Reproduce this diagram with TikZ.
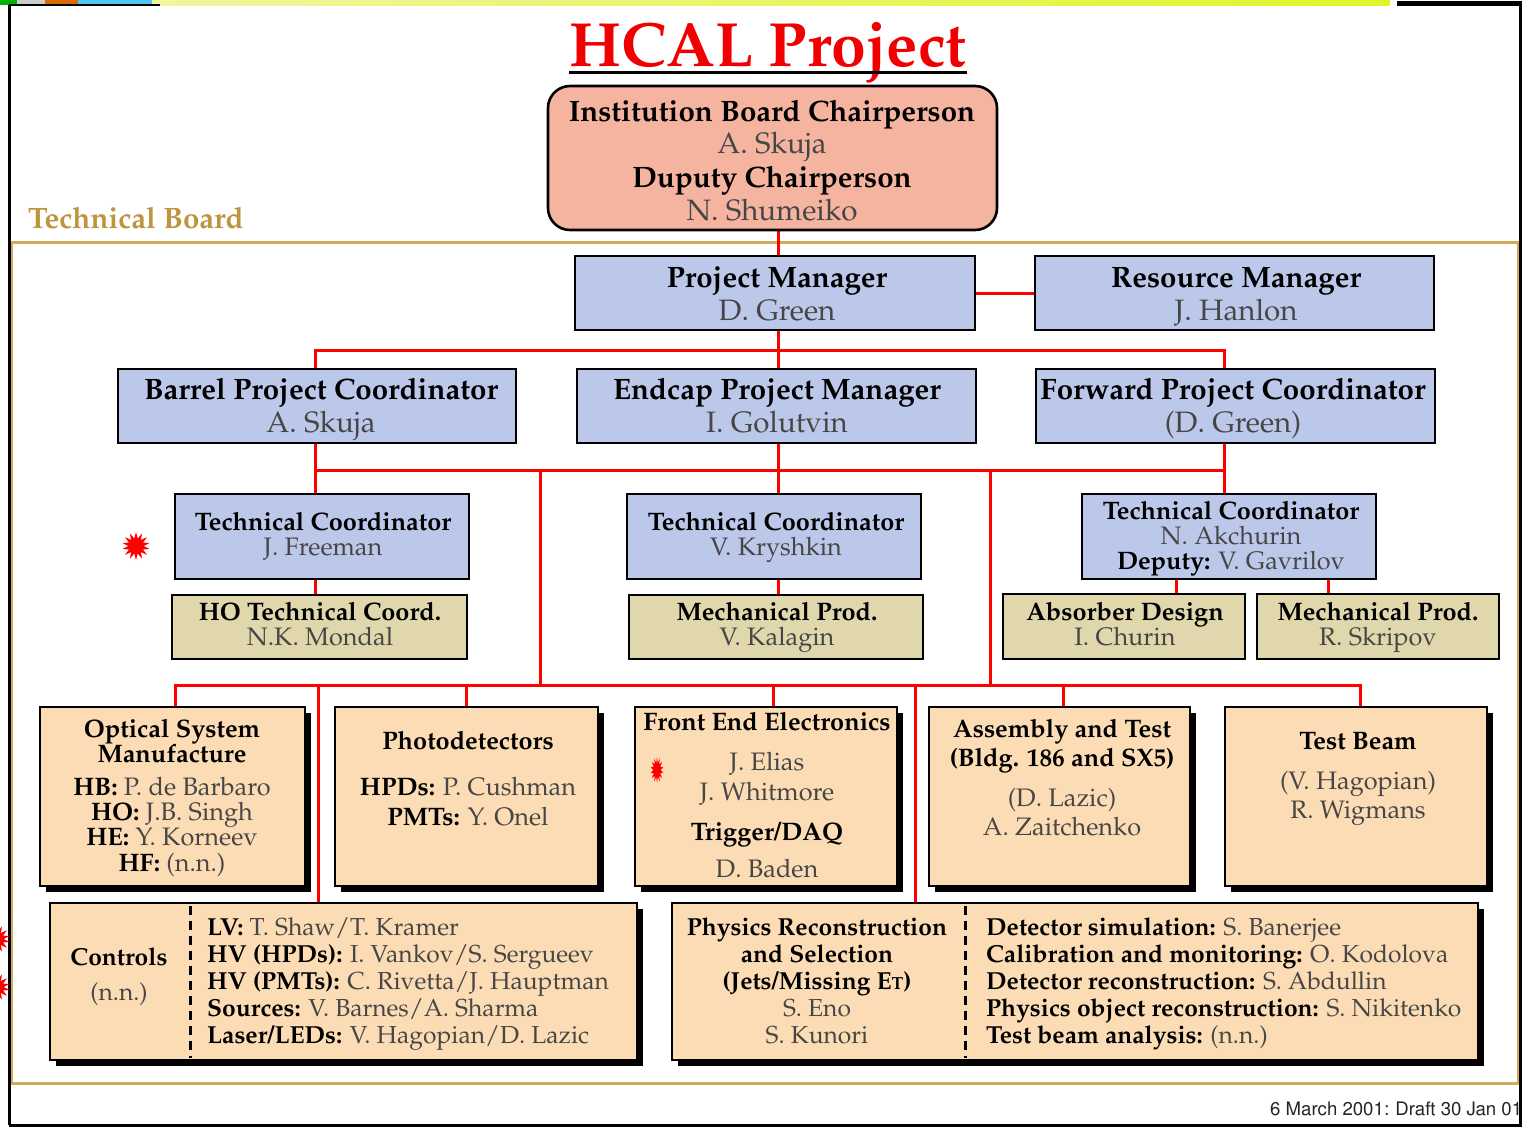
\documentclass[tikz,border=0pt]{standalone}
\usepackage[T1]{fontenc}
\usepackage{mathpazo}
\usetikzlibrary{shapes.geometric,shadows}

\definecolor{linkred}{RGB}{255,0,0}
\definecolor{titlered}{RGB}{240,0,0}
\definecolor{boardgold}{RGB}{212,170,90}
\definecolor{boardtext}{RGB}{190,148,62}
\definecolor{bluefill}{RGB}{188,200,234}
\definecolor{tanfill}{RGB}{224,215,172}
\definecolor{peachfill}{RGB}{252,220,180}
\definecolor{salmonfill}{RGB}{244,180,160}
\definecolor{nametext}{RGB}{70,70,70}

\pgfdeclarelayer{bg}
\pgfsetlayers{bg,main}

\tikzset{
  box/.style={draw=black, line width=2.6pt, inner sep=0pt, rectangle},
  bluebox/.style={box, fill=bluefill},
  tanbox/.style={box, fill=tanfill},
  peachbox/.style={box, fill=peachfill,
    drop shadow={shadow xshift=6pt, shadow yshift=-6pt, fill=black, opacity=1}},
  link/.style={draw=linkred, line width=3pt, line cap=rect},
  divider/.style={draw=black, line width=3pt, dash pattern=on 9pt off 6pt},
  big/.style={font=\fontsize{29.5}{33}\selectfont, inner sep=0pt, text=nametext},
  small/.style={font=\fontsize{25.3}{27}\selectfont, inner sep=0pt, text=nametext},
  smaller/.style={font=\fontsize{24.6}{27}\selectfont, inner sep=0pt, text=nametext},
  burst/.style={star, star points=14, star point ratio=1.8, fill=red, draw=none,
    inner sep=0pt, minimum size=28pt},
}

% bold heading text inside a name line
\newcommand\hd[1]{{\bfseries\color{black}#1}}
% box from its corner coordinates: style, name, x1, y1, x2, y2
\newcommand\mkbox[6]{\node[#1, minimum width=#5-#3, minimum height=#6-#4] (#2) at ({(#3+#5)/2},{(#4+#6)/2}) {};}
% one text line on its baseline: style, name, x, y, text
\newcommand\mkline[5]{\node[#1, anchor=base] (#2) at (#3,#4) {#5};}
\newcommand\mklinel[5]{\node[#1, anchor=base west] (#2) at (#3,#4) {#5};}

\begin{document}
\begin{tikzpicture}[x=1pt, y=-1pt]
\useasboundingbox (0,0) rectangle (1522,1128);

% window strip and frame
\fill[green!70!black] (0,0) rectangle (17,5);
\fill[black!20] (17,0) rectangle (45,5);
\fill[orange!85!black] (45,0) rectangle (78,5);
\fill[cyan!70] (78,0) rectangle (152,5);
\shade[left color={rgb,255:red,238;green,246;blue,160}, right color={rgb,255:red,226;green,244;blue,40}] (152,0) rectangle (1390,5);
\draw[line width=3pt] (9,5) -- (9,1125);
\draw[line width=2pt] (9,5) -- (160,5);
\draw[line width=5pt] (1397,3) -- (1522,3);
\draw[line width=3pt] (1520,3) -- (1520,1125);
\draw[line width=3pt] (9,1125) -- (1522,1125);

% title
\node[anchor=base, font=\fontsize{62.5}{70}\selectfont\bfseries, text=titlered, inner sep=0pt] (title) at (768,66) {HCAL Project};
\draw[line width=3pt] ([yshift=-6pt]title.base west) -- ([yshift=-6pt]title.base east);

% institution board
\node[box, fill=salmonfill, rounded corners=22pt, minimum width=449, minimum height=144] (ibc) at (772.5,158) {};
\mkline{big}{ib1}{772}{121}{\hd{Institution Board Chairperson}}
\mkline{big}{ib2}{772}{153}{A. Skuja}
\mkline{big}{ib3}{772}{187}{\hd{Duputy Chairperson}}
\mkline{big}{ib4}{772}{220}{N. Shumeiko}

\node[anchor=base west, font=\fontsize{29.5}{33}\selectfont\bfseries, text=boardtext, inner sep=0pt] (tblabel) at (28,228) {Technical Board};

% managers
\mkbox{bluebox}{pm}{575}{256}{975}{330}
\mkbox{bluebox}{rm}{1035}{256}{1434}{330}
\mkline{big}{pm1}{777}{287}{\hd{Project Manager}}
\mkline{big}{pm2}{777}{320}{D. Green}
\mkline{big}{rm1}{1236}{287}{\hd{Resource Manager}}
\mkline{big}{rm2}{1236}{320}{J. Hanlon}

\mkbox{bluebox}{barrel}{118}{369}{516}{443}
\mkbox{bluebox}{endcap}{577}{369}{976}{443}
\mkbox{bluebox}{forward}{1036}{369}{1435}{443}
\mkline{big}{ba1}{321}{399}{\hd{Barrel Project Coordinator}}
\mkline{big}{ba2}{321}{432}{A. Skuja}
\mkline{big}{ec1}{777}{399}{\hd{Endcap Project Manager}}
\mkline{big}{ec2}{777}{432}{I. Golutvin}
\mkline{big}{fw1}{1233}{399}{\hd{Forward Project Coordinator}}
\mkline{big}{fw2}{1233}{432}{(D. Green)}

% technical coordinators
\mkbox{bluebox}{freeman}{175}{494}{469}{579}
\mkbox{bluebox}{kryshkin}{627}{494}{921}{579}
\mkbox{bluebox}{akchurin}{1082}{494}{1376}{579}
\mkline{small}{fr1}{323}{530}{\hd{Technical Coordinator}}
\mkline{small}{fr2}{323}{555}{J. Freeman}
\mkline{small}{kr1}{776}{530}{\hd{Technical Coordinator}}
\mkline{small}{kr2}{776}{555}{V. Kryshkin}
\mkline{small}{ak1t}{1231}{519}{\hd{Technical Coordinator}}
\mkline{small}{ak2t}{1231}{544}{N. Akchurin}
\mkline{small}{ak3t}{1231}{569}{\hd{Deputy:} V. Gavrilov}

\mkbox{tanbox}{ho}{172}{595}{467}{659}
\mkbox{tanbox}{kalagin}{629}{595}{923}{659}
\mkbox{tanbox}{absorber}{1003}{594}{1245}{659}
\mkbox{tanbox}{skripov}{1257}{594}{1499}{659}
\mkline{small}{ho1}{320}{620}{\hd{HO Technical Coord.}}
\mkline{small}{ho2}{320}{645}{N.K. Mondal}
\mkline{small}{ka1}{777}{620}{\hd{Mechanical Prod.}}
\mkline{small}{ka2}{777}{645}{V. Kalagin}
\mkline{small}{ab1}{1125}{620}{\hd{Absorber Design}}
\mkline{small}{ab2}{1125}{645}{I. Churin}
\mkline{small}{sk1}{1378}{620}{\hd{Mechanical Prod.}}
\mkline{small}{sk2}{1378}{645}{R. Skripov}

% working groups
\mkbox{peachbox}{optical}{40}{707}{305}{886}
\mkbox{peachbox}{photo}{335}{707}{598}{886}
\mkbox{peachbox}{fee}{635}{707}{897}{886}
\mkbox{peachbox}{assembly}{929}{707}{1190}{886}
\mkbox{peachbox}{testbeam}{1225}{707}{1487}{886}

\mkline{small}{op1}{172}{737}{\hd{Optical System}}
\mkline{small}{op2}{172}{762}{\hd{Manufacture}}
\mkline{small}{op3}{172}{795}{\hd{HB:} P. de Barbaro}
\mkline{small}{op4}{172}{820}{\hd{HO:} J.B. Singh}
\mkline{small}{op5}{172}{845}{\hd{HE:} Y. Korneev}
\mkline{small}{op6}{172}{871}{\hd{HF:} (n.n.)}

\mkline{small}{ph1}{468}{749}{\hd{Photodetectors}}
\mkline{small}{ph2}{468}{795}{\hd{HPDs:} P. Cushman}
\mkline{small}{ph3}{468}{825}{\hd{PMTs:} Y. Onel}

\mkline{small}{fe1}{767}{730}{\hd{Front End Electronics}}
\mkline{small}{fe2}{767}{770}{J. Elias}
\mkline{small}{fe3}{767}{800}{J. Whitmore}
\mkline{small}{fe4}{767}{840}{\hd{Trigger/DAQ}}
\mkline{small}{fe5}{767}{877}{D. Baden}

\mkline{small}{as1}{1062}{737}{\hd{Assembly and Test}}
\mkline{small}{as2}{1062}{766}{\hd{(Bldg. 186 and SX5)}}
\mkline{small}{as3}{1062}{806}{(D. Lazic)}
\mkline{small}{as4}{1062}{835}{A. Zaitchenko}

\mkline{small}{tb1}{1358}{749}{\hd{Test Beam}}
\mkline{small}{tb2}{1358}{789}{(V. Hagopian)}
\mkline{small}{tb3}{1358}{818}{R. Wigmans}

% controls and physics
\mkbox{peachbox}{controls}{50}{903}{637}{1060}
\mkbox{peachbox}{physics}{672}{903}{1478}{1060}
\coordinate (dv1) at (190,0);
\coordinate (dv2) at (965,0);
\draw[divider] ([yshift=-4pt]controls.north -| dv1) -- ([yshift=3pt]controls.south -| dv1);
\draw[divider] ([yshift=-4pt]physics.north -| dv2) -- ([yshift=3pt]physics.south -| dv2);

\mkline{smaller}{co1}{119}{965}{\hd{Controls}}
\mkline{smaller}{co2}{119}{1000}{(n.n.)}
\mklinel{smaller}{cr1}{207}{935}{\hd{LV:} T. Shaw/T. Kramer}
\mklinel{smaller}{cr2}{207}{962}{\hd{HV (HPDs):} I. Vankov/S. Sergueev}
\mklinel{smaller}{cr3}{207}{989}{\hd{HV (PMTs):} C. Rivetta/J. Hauptman}
\mklinel{smaller}{cr4}{207}{1016}{\hd{Sources:} V. Barnes/A. Sharma}
\mklinel{smaller}{cr5}{207}{1043}{\hd{Laser/LEDs:} V. Hagopian/D. Lazic}

\mkline{smaller}{py1}{817}{935}{\hd{Physics Reconstruction}}
\mkline{smaller}{py2}{817}{962}{\hd{and Selection}}
\mkline{smaller}{py3}{817}{989}{\hd{(Jets/Missing E{\fontsize{17.5}{18}\selectfont T})}}
\mkline{smaller}{py4}{817}{1016}{S. Eno}
\mkline{smaller}{py5}{817}{1043}{S. Kunori}
\mklinel{smaller}{pr1}{986}{935}{\hd{Detector simulation:} S. Banerjee}
\mklinel{smaller}{pr2}{986}{962}{\hd{Calibration and monitoring:} O. Kodolova}
\mklinel{smaller}{pr3}{986}{989}{\hd{Detector reconstruction:} S. Abdullin}
\mklinel{smaller}{pr4}{986}{1016}{\hd{Physics object reconstruction:} S. Nikitenko}
\mklinel{smaller}{pr5}{986}{1043}{\hd{Test beam analysis:} (n.n.)}

% markers
\node[burst] (st1) at (136,546) {};
\node[burst, minimum size=26pt, xscale=0.5, transform shape] (st2) at (657,770) {};
\node[burst] (st3) at (-4,939) {};
\node[burst] (st4) at (-4,987) {};

% footer
\node[anchor=base west, font={\fontfamily{phv}\fontsize{18.6}{20}\selectfont}, text=black!85, inner sep=0pt] (foot) at (1270,1115) {6 March 2001: Draft 30 Jan 01};

% white ground, technical board frame and red connectors, behind the boxes
\begin{pgfonlayer}{bg}
\fill[white] (0,5) rectangle (1522,1128);
\draw[boardgold, line width=3pt] (11,242) rectangle (1518,1083);

\coordinate (sp) at (778,0);
\draw[link] (ibc.south -| sp) -- (pm.north -| sp);
\draw[link] (pm.east) -- (rm.west);

\coordinate (b1l) at (315,350);
\coordinate (b1r) at (1224,350);
\draw[link] (pm.south -| sp) -- (endcap.north -| sp);
\draw[link] (b1l) -- (b1r);
\draw[link] (b1l) -- (barrel.north -| b1l);
\draw[link] (b1r) -- (forward.north -| b1r);

\coordinate (b2l) at (315,470);
\coordinate (b2r) at (1224,470);
\draw[link] (b2l) -- (b2r);
\draw[link] (barrel.south -| b2l) -- (freeman.north -| b2l);
\draw[link] (endcap.south -| sp) -- (kryshkin.north -| sp);
\draw[link] (forward.south -| b2r) -- (akchurin.north -| b2r);
\draw[link] (freeman.south -| b2l) -- (ho.north -| b2l);
\draw[link] (kryshkin.south -| sp) -- (kalagin.north -| sp);
\coordinate (ak1) at (1176,0);
\coordinate (ak2) at (1328,0);
\draw[link] (akchurin.south -| ak1) -- (absorber.north -| ak1);
\draw[link] (akchurin.south -| ak2) -- (skripov.north -| ak2);

\coordinate (b3l) at (175,685);
\coordinate (b3r) at (1360,685);
\coordinate (d1) at (540,470);
\coordinate (d2) at (990,470);
\draw[link] (d1) -- (d1 |- b3l);
\draw[link] (d2) -- (d2 |- b3l);
\draw[link] (b3l) -- (b3r);
\draw[link] (b3l) -- (optical.north -| b3l);
\coordinate (c1) at (318,685);
\coordinate (c2) at (466,685);
\coordinate (c3) at (773,685);
\coordinate (c4) at (915,685);
\coordinate (c5) at (1063,685);
\draw[link] (c1) -- (controls.north -| c1);
\draw[link] (c2) -- (photo.north -| c2);
\draw[link] (c3) -- (fee.north -| c3);
\draw[link] (c4) -- (physics.north -| c4);
\draw[link] (c5) -- (assembly.north -| c5);
\draw[link] (b3r) -- (testbeam.north -| b3r);
\end{pgfonlayer}
\end{tikzpicture}
\end{document}
